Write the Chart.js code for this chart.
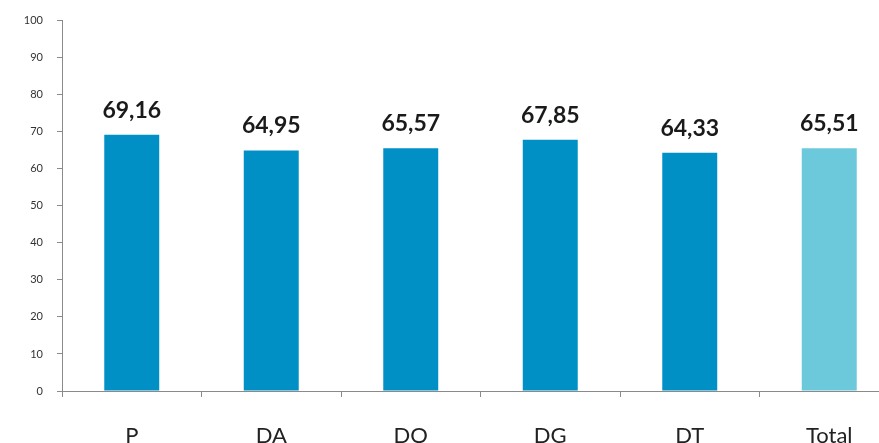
<!DOCTYPE html>
<html>
<head>
<meta charset="utf-8">
<script src="https://cdn.jsdelivr.net/npm/chart.js@4/dist/chart.umd.min.js"></script>
<style>
  html, body { margin: 0; padding: 0; background: #fff; overflow: hidden; }
  #wrap { width: 879px; height: 443px; overflow: hidden; }
</style>
</head>
<body>
<div id="wrap"><canvas id="chart" width="899" height="443"></canvas></div>
<script>
const categories = ['P', 'DA', 'DO', 'DG', 'DT', 'Total'];
const scores = [69.16, 64.95, 65.57, 67.85, 64.33, 65.51];
const barColors = ['#0090C6', '#0090C6', '#0090C6', '#0090C6', '#0090C6', '#6CC8DB'];
const yTicks = [0, 10, 20, 30, 40, 50, 60, 70, 80, 90, 100];

// value labels above each bar, decimal comma
const valueLabels = {
  id: 'valueLabels',
  afterDatasetsDraw(chart) {
    const ctx = chart.ctx;
    const meta = chart.getDatasetMeta(0);
    ctx.save();
    ctx.font = 'bold 23px Lato';
    ctx.fillStyle = '#1a1a1a';
    ctx.textAlign = 'center';
    ctx.textBaseline = 'alphabetic';
    meta.data.forEach((bar, i) => {
      const text = scores[i].toFixed(2).replace('.', ',');
      ctx.fillText(text, bar.x, bar.y - 17);
    });
    ctx.restore();
  }
};

new Chart(document.getElementById('chart').getContext('2d'), {
  type: 'bar',
  data: {
    labels: categories,
    datasets: [{
      data: scores,
      backgroundColor: barColors,
      categoryPercentage: 1,
      barPercentage: 0.394
    }]
  },
  options: {
    responsive: false,
    animation: false,
    layout: { padding: { top: 19, right: 0, left: 0, bottom: 0 } },
    plugins: { legend: { display: false }, tooltip: { enabled: false } },
    scales: {
      x: {
        grid: { offset: true, drawOnChartArea: false, drawTicks: true, tickLength: 6, color: '#8a8a8a' },
        border: { color: '#8a8a8a', width: 1 },
        ticks: { color: '#222', font: { family: 'Lato', size: 22 }, padding: 26 },
        afterFit(scale) { scale.height = 52; }
      },
      y: {
        min: 0,
        max: 100,
        afterBuildTicks(scale) { scale.ticks = yTicks.map(v => ({ value: v })); },
        grid: { drawOnChartArea: false, drawTicks: true, tickLength: 5, color: '#8a8a8a' },
        border: { color: '#8a8a8a', width: 1 },
        ticks: { color: '#333', font: { family: 'Lato', size: 11 }, padding: 14 },
        afterFit(scale) { scale.width = 62; }
      }
    }
  },
  plugins: [valueLabels]
});
</script>
</body>
</html>
